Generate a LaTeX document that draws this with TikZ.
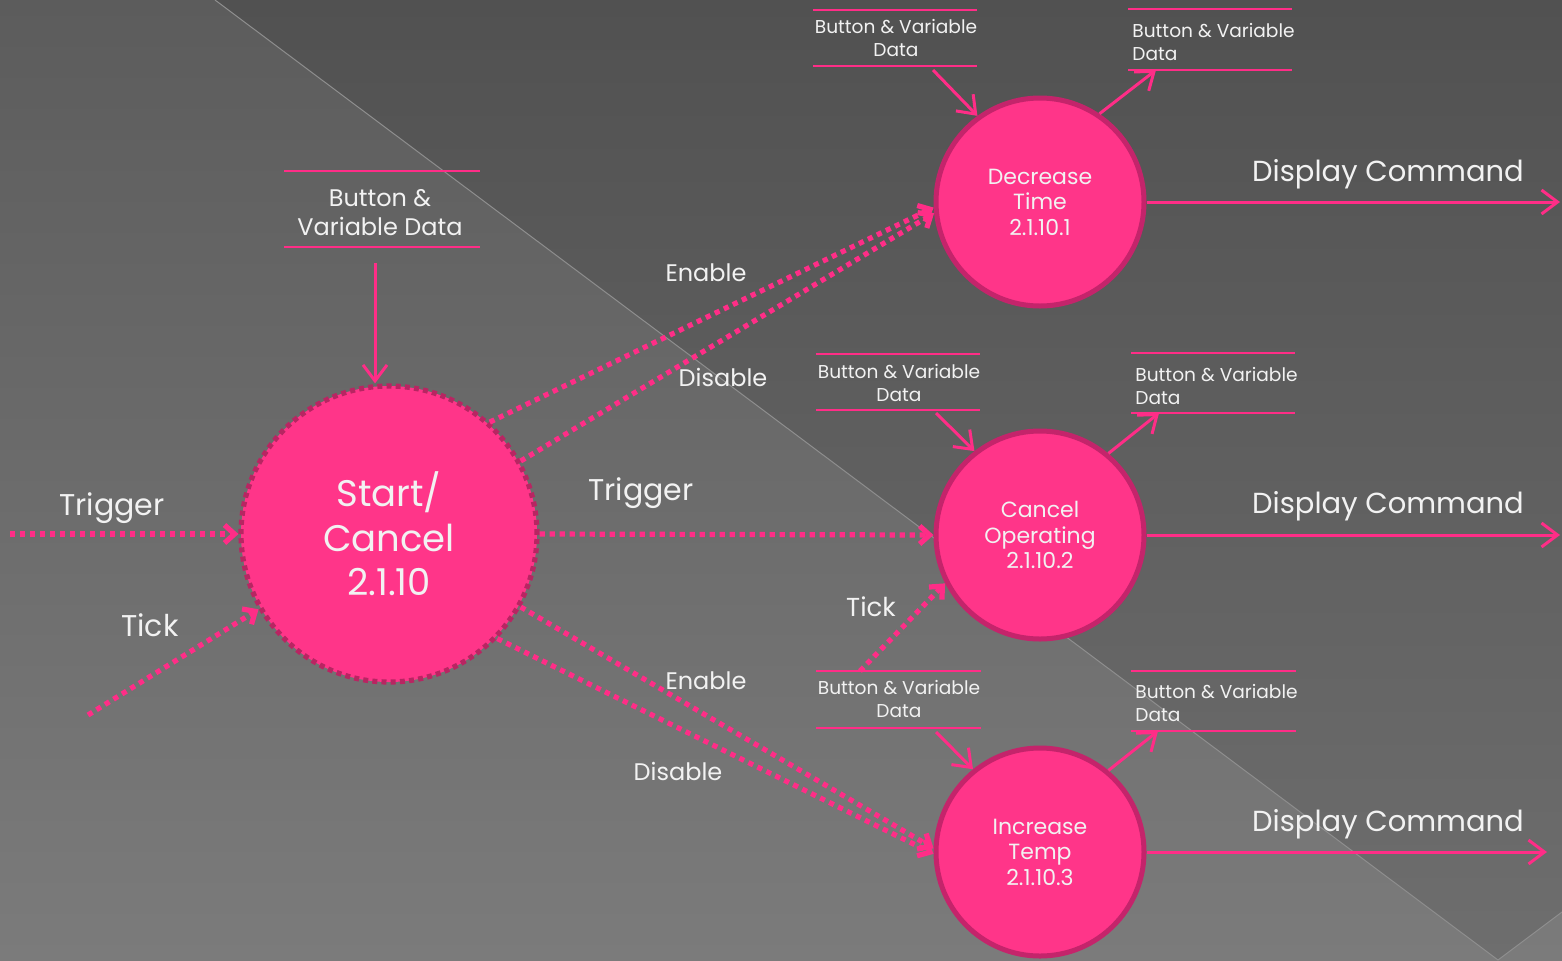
\documentclass[tikz,border=0pt]{standalone}
\usepackage{fontspec}
\setmainfont{Poppins}
\usetikzlibrary{arrows.meta}
\definecolor{pk}{HTML}{FF2D87}
\definecolor{pkfill}{HTML}{FF3589}
\definecolor{pkdark}{HTML}{C4246B}
\definecolor{pkdot}{HTML}{B82562}
\definecolor{txt}{HTML}{F2F2F2}
\definecolor{bgA}{HTML}{5C5C5C}
\definecolor{bgB}{HTML}{7B7B7B}
\definecolor{bgC}{HTML}{515151}
\definecolor{bgD}{HTML}{6E6E6E}
\definecolor{edge}{HTML}{8E8E8E}
\begin{document}
\begin{tikzpicture}[x=0.5pt,y=-0.5pt,
  proc/.style={circle, fill=pkfill, draw=pkdark, line width=2.5pt, text=txt, align=center,
    inner sep=0pt, minimum size=104pt, font=\fontsize{11}{12.7}\selectfont},
  mainproc/.style={circle, fill=pkfill, draw=pkdot, line width=2.6pt, dash pattern=on 2.5pt off 2.1pt,
    text=txt, align=center, inner sep=0pt, minimum size=148pt, font=\fontsize{18.5}{22.3}\selectfont},
  lbl/.style={text=txt, inner sep=0pt, anchor=base},
  biglbl/.style={lbl, font=\fontsize{15}{18}\selectfont},
  dcmd/.style={lbl, font=\fontsize{14.5}{17}\selectfont},
  midlbl/.style={lbl, font=\fontsize{12}{14}\selectfont},
  storetxt/.style={text=txt, inner sep=0pt, font=\fontsize{9.3}{11.3}\selectfont},
  storeline/.style={pk, line width=1.3pt},
  flow/.style={pk, line width=1.5pt, -{Straight Barb[length=8pt,width=12pt]}},
  dflow/.style={pk, line width=2.6pt, dash pattern=on 2.6pt off 2.4pt,
    -{Straight Barb[length=5pt,width=9pt]}}
]
\useasboundingbox (0,0) rectangle (1562,960);
% background
\shade[top color=bgA, bottom color=bgB] (0,0) rectangle (1562,960);
\shade[top color=bgC, bottom color=bgD] (215,0) -- (1562,0) -- (1562,912) -- (1498,960) -- cycle;
\draw[edge, line width=0.5pt] (215,0) -- (1498,960) -- (1562,912);

% processes
\node[mainproc] (start) at (389,534) {Start/\\Cancel\\2.1.10};
\node[proc] (dec) at (1040,202) {Decrease\\Time\\2.1.10.1};
\node[proc] (can) at (1040,535) {Cancel\\Operating\\2.1.10.2};
\node[proc] (inc) at (1040,852) {Increase\\Temp\\2.1.10.3};

% top-centre store
\draw[storeline] (284,171) -- (480,171);
\draw[storeline] (284,247) -- (480,247);
\node[storetxt, align=center, font=\fontsize{12}{14.5}\selectfont, anchor=base] (s0) at (380,235) {Button \&\\Variable Data};
\coordinate (s0a) at (375,263);
\draw[flow] (s0a) -- (start.north -| s0a);

% decrease stores
\draw[storeline] (813,10) -- (977,10);
\draw[storeline] (813,66) -- (977,66);
\node[storetxt, align=center, anchor=base] (s1) at (896,56) {Button \& Variable\\Data};
\coordinate (s1a) at (933,70);
\draw[flow] (s1a) -- (dec.126);

\draw[storeline] (1128,9) -- (1292,9);
\draw[storeline] (1128,70) -- (1292,70);
\node[storetxt, align=left, anchor=base west] (s2) at (1132,60) {Button \& Variable\\Data};
\coordinate (s2a) at (1156,70);
\draw[flow] (dec.56) -- (s2a);

% cancel stores
\draw[storeline] (816,354) -- (980,354);
\draw[storeline] (816,410) -- (980,410);
\node[storetxt, align=center, anchor=base] (s3) at (899,401) {Button \& Variable\\Data};
\coordinate (s3a) at (936,413);
\draw[flow] (s3a) -- (can.128);

\draw[storeline] (1131,353) -- (1295,353);
\draw[storeline] (1131,413) -- (1295,413);
\node[storetxt, align=left, anchor=base west] (s4) at (1135,404) {Button \& Variable\\Data};
\coordinate (s4a) at (1159,413);
\draw[flow] (can.50) -- (s4a);

% increase stores
\draw[storeline] (816,671) -- (981,671);
\draw[storeline] (816,728) -- (981,728);
\node[storetxt, align=center, anchor=base] (s5) at (899,717) {Button \& Variable\\Data};
\coordinate (s5a) at (936,732);
\draw[flow] (s5a) -- (inc.129);

\draw[storeline] (1131,671) -- (1296,671);
\draw[storeline] (1131,731) -- (1296,731);
\node[storetxt, align=left, anchor=base west] (s6) at (1135,721) {Button \& Variable\\Data};
\coordinate (s6a) at (1158,731);
\draw[flow] (inc.50) -- (s6a);

% display command outputs
\coordinate (o1) at (1560,202);
\coordinate (o2) at (1560,535);
\coordinate (o3) at (1547,852);
\draw[flow] (dec.east) -- (o1);
\draw[flow] (can.east) -- (o2);
\draw[flow] (inc.east) -- (o3);
\node[dcmd] (d1) at (1388,181) {Display Command};
\node[dcmd] (d2) at (1388,513) {Display Command};
\node[dcmd] (d3) at (1388,831) {Display Command};

% inputs to start
\coordinate (trig) at (10,534);
\coordinate (tick) at (88,715);
\draw[dflow] (trig) -- (start.west);
\draw[dflow] (tick) -- (start.210);
\node[biglbl] (lt1) at (112,515) {Trigger};
\node[biglbl] (lt2) at (150,636) {Tick};

% start to processes
\draw[dflow] (start.48) -- (dec.183);
\draw[dflow] (start.29) -- (dec.186);
\draw[dflow] (start.east) -- (can.west);
\draw[dflow] (start.-29) -- (inc.178);
\draw[dflow] (start.-44) -- (inc.181);
\node[midlbl] (le1) at (706,281) {Enable};
\node[midlbl] (ld1) at (723,386) {Disable};
\node[biglbl] (lt3) at (641,500) {Trigger};
\node[midlbl] (le2) at (706,689) {Enable};
\node[midlbl] (ld2) at (678,780) {Disable};

% tick into cancel
\coordinate (tick2) at (860,671);
\draw[dflow] (tick2) -- (can.207);
\node[midlbl, font=\fontsize{13}{15}\selectfont] (lt4) at (871,616) {Tick};
\end{tikzpicture}
\end{document}
